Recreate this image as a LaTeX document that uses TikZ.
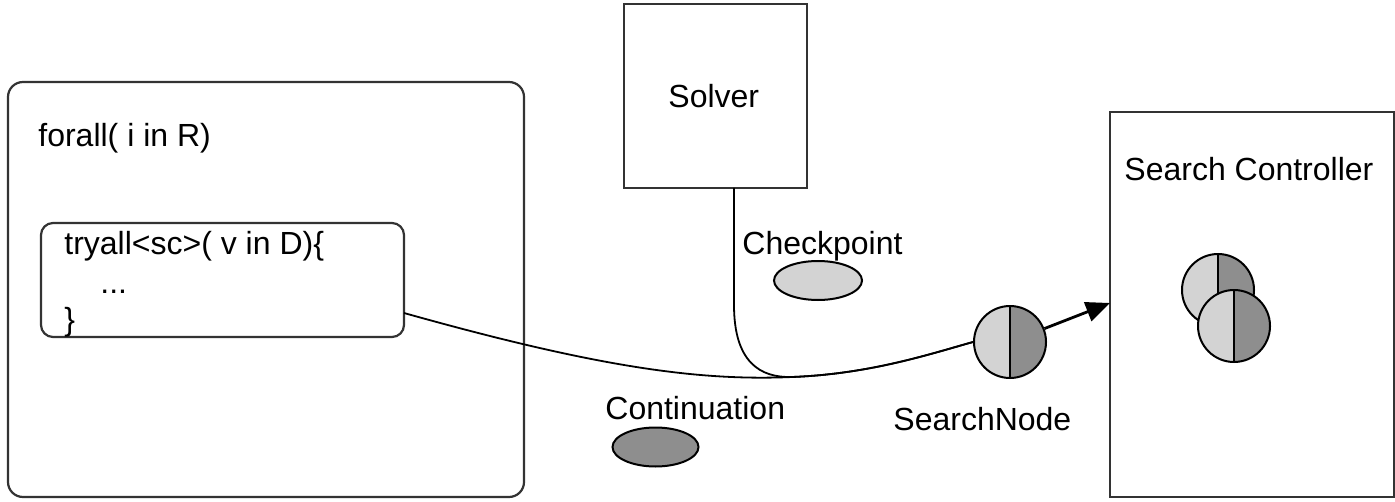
\documentclass[tikz,border=0pt]{standalone}
\usepackage{fontspec}
\setmainfont{Liberation Sans}
\usetikzlibrary{arrows.meta,shapes.geometric}
\definecolor{lightg}{HTML}{D3D3D3}
\definecolor{darkg}{HTML}{8E8E8E}
\definecolor{edge}{HTML}{333333}
\tikzset{
  txt/.style={inner sep=0pt, anchor=base west, font=\fontsize{16}{19}\selectfont},
  boxline/.style={draw=edge, line width=1.1pt},
  conn/.style={draw=black, line width=0.9pt},
  halfcirc/.style={circle, draw=black, line width=1pt, minimum size=36pt, inner sep=0pt,
    path picture={
      \fill[lightg] (path picture bounding box.south west) rectangle (path picture bounding box.north);
      \fill[darkg] (path picture bounding box.south) rectangle (path picture bounding box.north east);
      \draw[line width=1pt] (path picture bounding box.south) -- (path picture bounding box.north);
    }},
  blob/.style={ellipse, draw=black, line width=1pt, minimum width=44pt, minimum height=19.5pt, inner sep=0pt}
}
\begin{document}
\begin{tikzpicture}[x=0.5pt,y=-0.5pt]
\useasboundingbox (0,0) rectangle (1395,502);
% outer forall box
\draw[boxline, rounded corners=7.5pt] (8,82) rectangle (524,497);
\node[txt] (forall) at (38,147) {forall( i in R)};
% inner tryall box
\draw[boxline, rounded corners=6pt] (41,223) rectangle (404,337);
\coordinate (innerE) at (404,313);
\node[txt] (tryall) at (64,254) {tryall<sc>( v in D)\{};
\node[txt] (dots) at (100,293) {...};
\node[txt] (brace) at (64,330) {\}};
% solver
\node[boxline, rectangle, minimum width=91.5pt, minimum height=92pt, inner sep=0pt] (solver) at (715.5,96) {};
\node[txt] (solvertxt) at (668,108) {Solver};
\coordinate (solverout) at (734,188);
% search controller
\draw[boxline] (1110,112) rectangle (1394,497);
\node[txt] (sctxt) at (1124,181) {Search Controller};
\coordinate (arrowend) at (1110,303);
% stacked nodes in controller
\node[halfcirc] (scback) at (1218,290) {};
\node[halfcirc] (scfront) at (1234,326) {};
% checkpoint & continuation
\node[txt] (cptxt) at (742,254) {Checkpoint};
\node[blob, fill=lightg] (cp) at (818,280.5) {};
\node[txt] (conttxt) at (605,419) {Continuation};
\node[blob, fill=darkg, minimum width=43pt] (cont) at (655.5,447) {};
% search node
\node[halfcirc] (sn) at (1010,342) {};
\node[txt] (sntxt) at (893,430) {SearchNode};
% connectors
\coordinate (merge) at (792,377);
\draw[conn] (innerE) .. controls (600,368) and (700,381) .. (merge)
  .. controls (870,374) and (930,354) .. (sn.west);
\draw[conn] (solverout) -- (734,305) .. controls (734,362) and (760,378) .. (merge)
  .. controls (870,374) and (930,354) .. (sn.west);
\draw[line width=1.4pt, -{Triangle[length=12pt,width=10pt]}] (sn) -- (arrowend);
\end{tikzpicture}
\end{document}
